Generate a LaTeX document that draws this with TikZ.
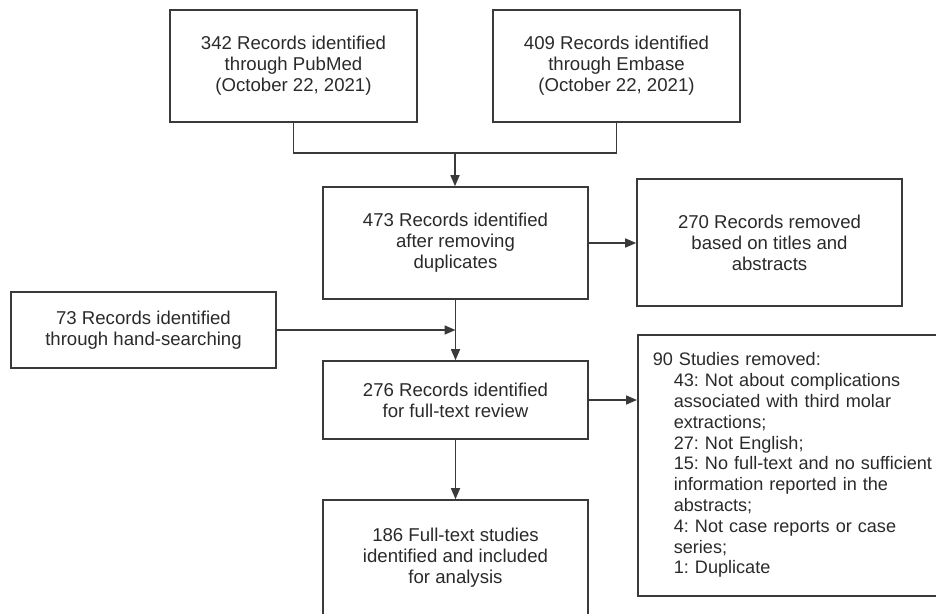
\documentclass[tikz,border=0pt]{standalone}
\usepackage{fontspec}
\setmainfont{Liberation Sans}
\usetikzlibrary{arrows.meta}
\definecolor{boxline}{HTML}{3A3A3A}
\definecolor{boxtext}{HTML}{2A2A2A}
\newcommand{\itemgap}{\hspace*{21pt}}
\frenchspacing
\begin{document}
\begin{tikzpicture}[x=1pt,y=-1pt,
  box/.style={draw=boxline,line width=1.6pt,text=boxtext,align=center,inner sep=0pt,
    font=\fontsize{18.6}{21}\selectfont},
  link/.style={draw=boxline,line width=1.6pt},
  arr/.style={link,-{Triangle[length=11pt,width=9pt]}}]
\pgfmathsetmacro{\kw}{265}
\pgfmathsetmacro{\ks}{247}
\clip (0,0) rectangle (936,613);
%
\node[box,minimum width=\ks pt,minimum height=112pt] (pubmed) at (293.5,66) {342 Records identified\\through PubMed\\(October 22, 2021)};
\node[box,minimum width=\ks pt,minimum height=112pt] (embase) at (616.5,66) {409 Records identified\\through Embase\\(October 22, 2021)};
%
\node[box,minimum width=\kw pt,minimum height=112pt] (dedup) at (455.5,243) {473 Records identified\\after removing\\duplicates};
\node[box,minimum width=\kw pt,minimum height=127pt] (titles) at (769.5,242.5) {270 Records removed\\based on titles and\\abstracts};
\node[box,minimum width=\kw pt,minimum height=76pt] (hand) at (143.5,330) {73 Records identified\\through hand-searching};
\node[box,minimum width=\kw pt,minimum height=78pt] (fulltext) at (455.5,400) {276 Records identified\\for full-text review};
\node[box,minimum width=\kw pt,minimum height=116pt] (included) at (455.5,558) {186 Full-text studies\\identified and included\\for analysis};
%
\node[box,anchor=north west,align=left,text width=290pt,inner xsep=15pt,minimum height=261pt,
  font=\fontsize{18.1}{20.8}\selectfont] (removed) at (637,334) {90 Studies removed:\\
\itemgap 43: Not about complications\\
\itemgap associated with third molar\\
\itemgap extractions;\\
\itemgap 27: Not English;\\
\itemgap 15: No full-text and no sufficient\\
\itemgap information reported in the\\
\itemgap abstracts;\\
\itemgap 4: Not case reports or case\\
\itemgap series;\\
\itemgap 1: Duplicate};
%
\coordinate (merge) at (455,153);
\draw[link] (pubmed.south) -- (pubmed.south |- merge) -- (embase.south |- merge) -- (embase.south);
\draw[arr] (merge) -- (dedup.north -| merge);
%
\draw[arr] (dedup.east) -- (dedup.east -| titles.west);
\draw[arr] (dedup.south) -- (fulltext.north);
\draw[arr] (hand.east) -- (hand.east -| dedup.south);
%
\draw[arr] (fulltext.east) -- (fulltext.east -| removed.west);
\draw[arr] (fulltext.south) -- (included.north);
\end{tikzpicture}
\end{document}
